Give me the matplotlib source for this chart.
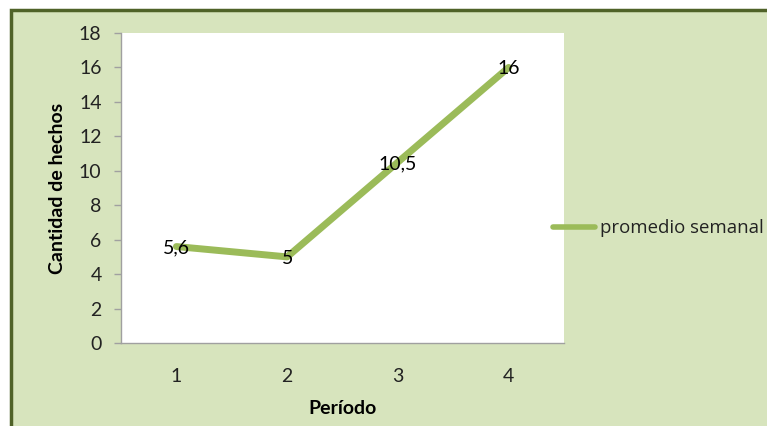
import matplotlib
matplotlib.use("Agg")
import matplotlib.pyplot as plt
from matplotlib.patches import Rectangle
from matplotlib.lines import Line2D

periods = [1, 2, 3, 4]
weekly_avg = [5.6, 5, 10.5, 16]
value_labels = ["5,6", "5", "10,5", "16"]
series_name = "promedio semanal"
y_ticks = [0, 2, 4, 6, 8, 10, 12, 14, 16, 18]

W, H = 767, 426
bg = "#D7E4BD"
line_color = "#9BBB59"
border = "#4F6228"
font = ["Lato", "DejaVu Sans"]

fig = plt.figure(figsize=(W / 100, H / 100), dpi=100)
fig.patch.set_facecolor("white")

# chart area background with a dark frame on the visible edges
fig.patches.append(Rectangle((11 / W, -0.1), 1.2, (H - 10) / H + 0.1,
                             transform=fig.transFigure, facecolor=bg,
                             edgecolor=border, linewidth=2.5, zorder=-10))

ax = fig.add_axes([121 / W, 1 - 343 / H, (564 - 121) / W, (343 - 33) / H])
ax.set_zorder(1)
ax.set_facecolor("white")
ax.plot(periods, weekly_avg, color=line_color, linewidth=5,
        solid_capstyle="round", solid_joinstyle="round")
for x, y, s in zip(periods, weekly_avg, value_labels):
    ax.text(x, y, s, ha="center", va="center_baseline", fontsize=14,
            family=font, color="black")

ax.set_xlim(0.5, 4.5)
ax.set_ylim(0, 18)
ax.set_yticks(y_ticks)
ax.set_xticks(periods)
ax.set_xticklabels([str(p) for p in periods])
for side in ("top", "right"):
    ax.spines[side].set_visible(False)
for side in ("left", "bottom"):
    ax.spines[side].set_color("#A0A0A0")
    ax.spines[side].set_linewidth(1)
ax.tick_params(axis="y", length=5, width=1, color="#A0A0A0", pad=9,
               labelsize=14)
ax.tick_params(axis="x", length=0, pad=18, labelsize=14)
for lab in ax.get_xticklabels() + ax.get_yticklabels():
    lab.set_family(font)
    lab.set_color("#222222")

ax.set_ylabel("Cantidad de hechos", fontsize=14, fontweight="bold",
              family=font, labelpad=9)
ax.set_xlabel("Período", fontsize=14, fontweight="bold", family=font,
              labelpad=11)

# legend entry on the right
fig.add_artist(Line2D([553 / W, 595 / W], [1 - 227 / H, 1 - 227 / H],
                      transform=fig.transFigure, color=line_color,
                      linewidth=4, solid_capstyle="round"))
fig.text(600 / W, 1 - 228 / H, series_name, ha="left", va="center",
         fontsize=13.4, family=["Open Sans", "DejaVu Sans"], color="#222222")

fig.savefig("out.png", dpi=100, facecolor=fig.get_facecolor())
